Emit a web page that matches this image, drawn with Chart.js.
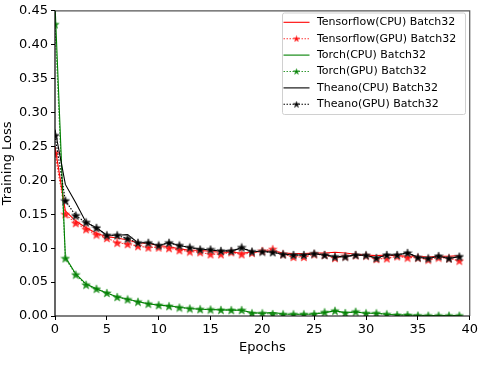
<!DOCTYPE html>
<html><head><meta charset="utf-8">
<script src="https://cdn.jsdelivr.net/npm/chart.js@4"></script>
<style>html,body{margin:0;padding:0;background:#fff}#wrap{width:480px;height:388px}</style>
</head><body><div id="wrap"><canvas id="c" width="480" height="388"></canvas></div>
<script>
const epochs = Array.from({length:40},(_,i)=>i);
const seriesNames = ["Tensorflow(CPU) Batch32","Tensorflow(GPU) Batch32","Torch(CPU) Batch32","Torch(GPU) Batch32","Theano(CPU) Batch32","Theano(GPU) Batch32"];
const tfCPU = [0.25,0.155,0.14,0.13,0.122,0.117,0.115,0.112,0.108,0.107,0.104,0.102,0.099,0.097,0.097,0.095,0.094,0.094,0.093,0.094,0.095,0.096,0.093,0.092,0.092,0.093,0.093,0.094,0.093,0.091,0.090,0.089,0.090,0.089,0.088,0.088,0.087,0.088,0.088,0.089];
const tfGPU = [0.24,0.150,0.137,0.128,0.120,0.115,0.108,0.106,0.103,0.101,0.101,0.100,0.097,0.095,0.094,0.091,0.091,0.094,0.091,0.093,0.096,0.0985,0.091,0.087,0.087,0.091,0.090,0.0855,0.088,0.0895,0.089,0.084,0.085,0.088,0.086,0.086,0.083,0.086,0.085,0.0815];
const torchCPU = [0.46,0.087,0.062,0.047,0.040,0.034,0.028,0.025,0.021,0.018,0.016,0.015,0.013,0.011,0.010,0.0095,0.009,0.0087,0.0085,0.005,0.004,0.0055,0.003,0.0025,0.0025,0.003,0.005,0.0075,0.005,0.006,0.004,0.004,0.0025,0.0015,0.0015,0.001,0.0008,0.0007,0.0006,0.0005];
const torchGPU = [0.43,0.085,0.061,0.046,0.040,0.034,0.028,0.0245,0.021,0.018,0.016,0.0145,0.0125,0.011,0.010,0.0095,0.009,0.0087,0.0087,0.004,0.004,0.003,0.0025,0.0025,0.0025,0.003,0.0055,0.0077,0.0045,0.0063,0.004,0.004,0.0025,0.0015,0.0015,0.0006,0.0005,0.0005,0.0005,0.0005];
const theanoCPU = [0.275,0.194,0.167,0.138,0.130,0.119,0.119,0.120,0.108,0.108,0.104,0.108,0.104,0.101,0.099,0.097,0.096,0.096,0.100,0.095,0.095,0.094,0.091,0.090,0.090,0.092,0.090,0.0875,0.0876,0.090,0.0895,0.0855,0.090,0.090,0.093,0.0865,0.085,0.088,0.085,0.0876];
const theanoGPU = [0.266,0.170,0.148,0.138,0.130,0.119,0.119,0.114,0.108,0.108,0.104,0.108,0.104,0.101,0.098,0.098,0.096,0.096,0.101,0.095,0.095,0.094,0.091,0.090,0.090,0.092,0.090,0.0874,0.0876,0.090,0.0895,0.0855,0.090,0.090,0.093,0.0864,0.085,0.0884,0.085,0.0876];
const xTicks = [0,5,10,15,20,25,30,35,40];
const yTicks = [0,0.05,0.10,0.15,0.20,0.25,0.30,0.35,0.40,0.45];

function starImg(fill, edge, s){
  const c=document.createElement('canvas'); c.width=s; c.height=s;
  const g=c.getContext('2d'); const cx=s/2, cy=s/2+0.04*s, R=s*0.45, r=s*0.19;
  g.beginPath();
  for(let i=0;i<10;i++){const a=-Math.PI/2+i*Math.PI/5; const rr=i%2?r:R; g.lineTo(cx+rr*Math.cos(a), cy+rr*Math.sin(a));}
  g.closePath(); g.fillStyle=fill; g.fill(); g.lineWidth=0.8; g.strokeStyle=edge; g.stroke();
  return c;
}
const starR = starImg('rgba(255,0,0,0.85)','rgba(255,60,60,0.7)',10);
const starG = starImg('rgba(0,128,0,0.9)','rgba(60,160,60,0.7)',10);
const starK = starImg('#000','#444',10);
const legendStars = [null, starImg('rgba(255,0,0,0.9)','rgba(255,60,60,0.7)',7), null, starImg('rgba(0,128,0,0.9)','rgba(60,160,60,0.7)',7), null, starImg('#000','#444',7)];

const cpu = (label,data,color,order)=>({label,data:data.map((v,i)=>({x:epochs[i],y:v})),borderColor:color,borderWidth:1.1,pointRadius:0,fill:false,tension:0,order});
const gpu = (label,data,color,img,order)=>({label,data:data.map((v,i)=>({x:epochs[i],y:v})),borderColor:color,borderWidth:1.1,borderDash:[1.5,1.5],pointStyle:img,pointRadius:5,fill:false,tension:0,order});

const datasets=[
  cpu(seriesNames[0],tfCPU,'#ff0000',6),
  gpu(seriesNames[1],tfGPU,'rgba(255,0,0,0.8)',starR,5),
  cpu(seriesNames[2],torchCPU,'#008000',4),
  gpu(seriesNames[3],torchGPU,'rgba(0,128,0,0.8)',starG,3),
  cpu(seriesNames[4],theanoCPU,'#000000',2),
  gpu(seriesNames[5],theanoGPU,'#000000',starK,1)
];

const FONT='"DejaVu Sans", sans-serif';
const framePlugin={id:'frame',afterDatasetsDraw(chart){
  const {ctx,chartArea:a}=chart; ctx.save();
  ctx.strokeStyle='#555'; ctx.lineWidth=1.2;
  ctx.beginPath(); ctx.moveTo(a.left,a.top); ctx.lineTo(a.right,a.top); ctx.lineTo(a.right,a.bottom); ctx.stroke();
  ctx.strokeStyle='#000';
  ctx.beginPath(); ctx.moveTo(a.left,a.top); ctx.lineTo(a.left,a.bottom); ctx.lineTo(a.right,a.bottom); ctx.stroke();
  // legend
  const bx=282, by=12.5, bw=183, bh=101.5, rowH=16.4, y0=22.3;
  ctx.fillStyle='rgba(255,255,255,0.85)'; ctx.strokeStyle='#d0d0d0'; ctx.lineWidth=1;
  ctx.beginPath(); ctx.roundRect(bx+0.5,by+0.5,bw,bh,2); ctx.fill(); ctx.stroke();
  ctx.font='11px '+FONT; ctx.textBaseline='middle'; ctx.fillStyle='#000';
  chart.data.datasets.forEach((d,i)=>{
    const y=y0+i*rowH;
    ctx.strokeStyle=d.borderColor; ctx.lineWidth=d.borderWidth; ctx.setLineDash(d.borderDash||[]);
    ctx.beginPath(); ctx.moveTo(283.5,y); ctx.lineTo(309.5,y); ctx.stroke(); ctx.setLineDash([]);
    if(legendStars[i]){ctx.drawImage(legendStars[i],296.5-3.5,y-3.5);}
    ctx.fillStyle='#000'; ctx.fillText(d.label,317,y);
  });
  ctx.restore();
}};

new Chart(document.getElementById('c'),{
  type:'line',
  data:{datasets},
  options:{
    responsive:false, animation:false, devicePixelRatio:1,
    layout:{padding:{left:0,right:10,top:7,bottom:33}},
    plugins:{legend:{display:false},tooltip:{enabled:false}},
    scales:{
      x:{type:'linear',min:0,max:40,
        afterBuildTicks(s){s.ticks=xTicks.map(v=>({value:v}));},
        afterFit(s){s.height=39;},
        grid:{display:true,drawOnChartArea:false,drawTicks:true,tickLength:4,color:'#000',tickWidth:1},
        border:{display:false},
        ticks:{color:'#000',font:{family:FONT,size:13},padding:2,maxRotation:0,callback:v=>String(v)},
        title:{display:true,text:'Epochs',color:'#000',font:{family:FONT,size:13},padding:{top:0,bottom:0}}
      },
      y:{type:'linear',min:0,max:0.45,
        afterBuildTicks(s){s.ticks=yTicks.map(v=>({value:v}));},
        afterFit(s){s.width=55;},
        grid:{display:true,drawOnChartArea:false,drawTicks:true,tickLength:4,color:'#000',tickWidth:1},
        border:{display:false},
        ticks:{color:'#000',font:{family:FONT,size:13},padding:3,callback:v=>v.toFixed(2)},
        title:{display:true,text:'Training Loss',color:'#000',font:{family:FONT,size:13},padding:{bottom:0,top:0}}
      }
    }
  },
  plugins:[framePlugin]
});
</script></body></html>
